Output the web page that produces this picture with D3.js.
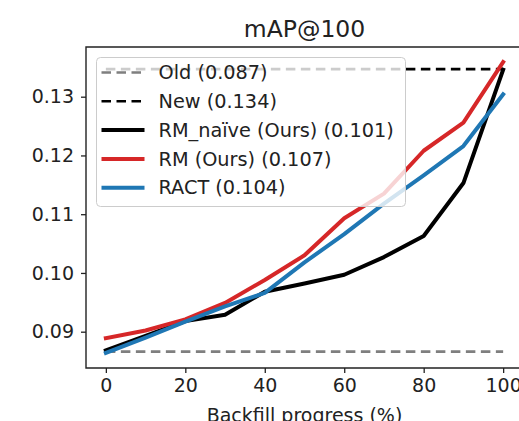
<!DOCTYPE html>
<html>
<head>
<meta charset="utf-8">
<script src="https://cdn.jsdelivr.net/npm/d3@7"></script>
<style>
  html, body { margin: 0; padding: 0; background: #fff; }
  svg { display: block; font-family: "DejaVu Sans", sans-serif; }
</style>
</head>
<body>
<svg id="chart" width="519" height="421"></svg>
<script>
// backfill progress (%)
const progress = [0, 10, 20, 30, 40, 50, 60, 70, 80, 90, 100];

// mAP@100 per method
const rmNaive = [0.0868, 0.0893, 0.0918, 0.0929, 0.0968, 0.0982, 0.0997, 0.1027, 0.1063, 0.1153, 0.1346];
const rm      = [0.0889, 0.0902, 0.0921, 0.0949, 0.0988, 0.1030, 0.1093, 0.1135, 0.1208, 0.1256, 0.1359];
const ract    = [0.0864, 0.0890, 0.0917, 0.0943, 0.0966, 0.1018, 0.1066, 0.1118, 0.1166, 0.1216, 0.1304];

// flat references
const oldValue = 0.0866;
const newValue = 0.1347;

const xTicks = [0, 20, 40, 60, 80, 100];
const yTicks = [0.09, 0.10, 0.11, 0.12, 0.13];

const legendLabels = ["Old (0.087)", "New (0.134)", "RM_naïve (Ours) (0.101)", "RM (Ours) (0.107)", "RACT (0.104)"];

const plot = { left: 86, right: 523, top: 47, bottom: 368 };

const svg = d3.select("#chart");

const x = d3.scaleLinear().domain([-5, 105]).range([plot.left, plot.right]);
const y = d3.scaleLinear().domain([0.08382, 0.13846]).range([plot.bottom, plot.top]);

svg.append("defs").append("clipPath").attr("id", "clip")
    .append("rect")
    .attr("x", plot.left).attr("y", plot.top)
    .attr("width", plot.right - plot.left).attr("height", plot.bottom - plot.top);

const series = [
    { label: legendLabels[0], values: progress.map(() => oldValue), color: "#7f7f7f", width: 2.6, dash: "9.5,5.5" },
    { label: legendLabels[1], values: progress.map(() => newValue), color: "#000", width: 2.6, dash: "9.5,5.5" },
    { label: legendLabels[2], values: rmNaive, color: "#000", width: 4, dash: null },
    { label: legendLabels[3], values: rm, color: "#d62728", width: 4, dash: null },
    { label: legendLabels[4], values: ract, color: "#1f77b4", width: 4, dash: null }
];

const line = d3.line()
    .x((d, i) => x(progress[i]))
    .y(d => y(d));

const gLines = svg.append("g").attr("clip-path", "url(#clip)");
series.forEach(s => {
    gLines.append("path")
        .datum(s.values)
        .attr("d", line)
        .attr("fill", "none")
        .attr("stroke", s.color)
        .attr("stroke-width", s.width)
        .attr("stroke-dasharray", s.dash)
        .attr("stroke-linejoin", "round")
        .attr("stroke-linecap", s.dash ? "butt" : "square");
});

// axes
const xAxis = svg.append("g")
    .attr("transform", `translate(0,${plot.bottom})`)
    .call(d3.axisBottom(x).tickValues(xTicks).tickSize(5).tickPadding(6).tickFormat(d3.format("d")));
const yAxis = svg.append("g")
    .attr("transform", `translate(${plot.left},0)`)
    .call(d3.axisLeft(y).tickValues(yTicks).tickSize(5).tickPadding(7).tickFormat(d3.format(".2f")));

[xAxis, yAxis].forEach(a => {
    a.select(".domain").remove();
    a.selectAll(".tick line").attr("stroke", "#222").attr("stroke-width", 1.3);
    a.selectAll(".tick text")
        .attr("fill", "#222")
        .attr("font-size", "19px")
        .attr("font-family", "DejaVu Sans");
});

// spines (left, top, bottom; right falls outside the picture)
svg.append("path")
    .attr("d", `M${plot.right},${plot.top}H${plot.left}V${plot.bottom}H${plot.right}`)
    .attr("fill", "none")
    .attr("stroke", "#222")
    .attr("stroke-width", 1.4);

// title + x label
svg.append("text")
    .attr("x", (plot.left + plot.right) / 2)
    .attr("y", 37)
    .attr("text-anchor", "middle")
    .attr("font-size", "23.5px")
    .attr("fill", "#222")
    .text("mAP@100");

svg.append("text")
    .attr("x", (plot.left + plot.right) / 2)
    .attr("y", 422)
    .attr("text-anchor", "middle")
    .attr("font-size", "19px")
    .attr("fill", "#222")
    .text("Backfill progress (%)");

// legend
const leg = svg.append("g").attr("transform", "translate(96.5,57.5)");
leg.append("rect")
    .attr("width", 309).attr("height", 149)
    .attr("rx", 4)
    .attr("fill", "#fff").attr("fill-opacity", 0.8)
    .attr("stroke", "#ccc").attr("stroke-width", 1);

const rowH = 28.8;
series.forEach((s, i) => {
    const cy = 15 + i * rowH;
    leg.append("line")
        .attr("x1", 5).attr("x2", 48)
        .attr("y1", cy).attr("y2", cy)
        .attr("stroke", s.color)
        .attr("stroke-width", s.width)
        .attr("stroke-dasharray", s.dash);
    leg.append("text")
        .attr("x", 62).attr("y", cy)
        .attr("dy", "0.35em")
        .attr("font-size", "19.3px")
        .attr("fill", "#222")
        .text(s.label);
});
</script>
</body>
</html>
